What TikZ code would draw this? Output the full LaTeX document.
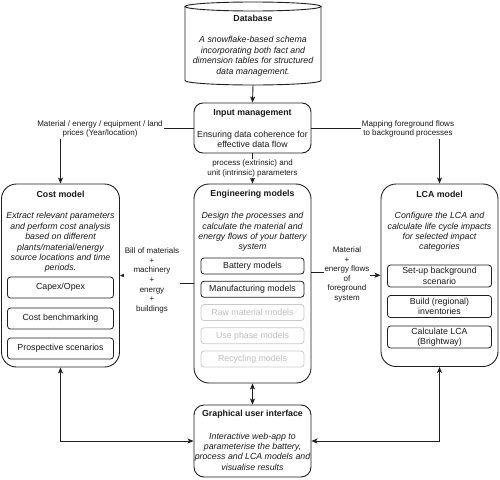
\documentclass[tikz,border=0pt]{standalone}
\usepackage{fontspec}
\setmainfont{Liberation Sans}
\usetikzlibrary{arrows.meta,calc}
\definecolor{linec}{HTML}{1F1F1F}
\definecolor{txtc}{HTML}{1A1A1A}
\definecolor{fadec}{HTML}{CACACA}
\definecolor{fadetxt}{HTML}{BEBEBE}
\begin{document}
\begin{tikzpicture}[x=1pt,y=-1pt,
  every node/.style={text=txtc},
  bigbox/.style={draw=linec, line width=0.9pt, fill=white, rounded corners=15pt, inner sep=0pt},
  midbox/.style={draw=linec, line width=0.9pt, fill=white, rounded corners=9pt, inner sep=0pt},
  subbox/.style={draw=linec, line width=0.8pt, fill=white, rounded corners=3pt, inner sep=0pt, align=center, font=\fontsize{8.8}{10.4}\selectfont},
  fadebox/.style={subbox, draw=fadec, text=fadetxt},
  ttl/.style={font=\bfseries\fontsize{8.8}{10.4}\selectfont, inner sep=0pt},
  body/.style={font=\itshape\fontsize{8.8}{10.4}\selectfont, align=center, inner sep=0pt},
  elabel/.style={fill=white, font=\fontsize{8}{9.6}\selectfont, align=center, inner sep=1pt},
  arr/.style={draw=linec, line width=0.9pt, -{Stealth[length=6pt,width=5pt,inset=1.5pt]}},
  dblarr/.style={draw=linec, line width=0.9pt, {Stealth[length=6pt,width=5pt,inset=1.5pt]}-{Stealth[length=6pt,width=5pt,inset=1.5pt]}}
]
\useasboundingbox (0,0) rectangle (500,479);
\fill[white] (0,0) rectangle (500,479);

% Database cylinder
\fill[white] (185,6.5) -- (185,80.5) .. controls (185,82.99) and (215.44,85) .. (253,85) .. controls (290.56,85) and (321,82.99) .. (321,80.5) -- (321,6.5) -- cycle;
\draw[draw=linec, line width=0.9pt] (185,6.5) -- (185,80.5) .. controls (185,82.99) and (215.44,85) .. (253,85) .. controls (290.56,85) and (321,82.99) .. (321,80.5) -- (321,6.5);
\draw[draw=linec, line width=0.9pt, fill=white] (253,6.5) ellipse [x radius=68pt, y radius=4.5pt];
\node[minimum width=136pt, minimum height=83pt, inner sep=0pt] (db) at (253,43.5) {};
\node[ttl] (dbt) at ($(db.north)+(0,17)$) {Database};
\node[body] (dbb) at ($(db.north)+(0,54.5)$) {A snowflake-based schema\\incorporating both fact and\\dimension tables for structured\\data management.};

% Main boxes
\node[midbox, minimum width=117pt, minimum height=50pt] (input) at (252.5,128) {};
\node[ttl] at ($(input.north)+(0,11)$) {Input management};
\node[body, font=\fontsize{8.8}{10.4}\selectfont] at ($(input.north)+(0,37)$) {Ensuring data coherence for\\effective data flow};

\node[bigbox, minimum width=118pt, minimum height=183pt] (cost) at (60.5,275.5) {};
\node[ttl] at ($(cost.north)+(0,11)$) {Cost model};
\node[body] at ($(cost.north)+(0,59)$) {Extract relevant parameters\\and perform cost analysis\\based on different\\plants/material/energy\\source locations and time\\periods.};
\node[subbox, minimum width=106pt, minimum height=21pt] (capex) at (60.5,287.5) {Capex/Opex};
\node[subbox, minimum width=106pt, minimum height=21pt] (bench) at (60.5,318.5) {Cost benchmarking};
\node[subbox, minimum width=106pt, minimum height=21pt] (prosp) at (60.5,348.5) {Prospective scenarios};

\node[bigbox, minimum width=117pt, minimum height=199pt] (eng) at (252.5,283.5) {};
\node[ttl] at ($(eng.north)+(0,10.5)$) {Engineering models};
\node[body] at ($(eng.north)+(0,48.5)$) {Design the processes and\\calculate the material and\\energy flows of your battery\\system};
\node[subbox, minimum width=103pt, minimum height=16pt] (batt) at (252.5,266) {Battery models};
\node[subbox, minimum width=103pt, minimum height=16pt] (manu) at (252.5,289.25) {Manufacturing models};
\node[fadebox, minimum width=103pt, minimum height=16pt] (raw) at (252.5,312.5) {Raw material models};
\node[fadebox, minimum width=103pt, minimum height=16pt] (use) at (252.5,335.75) {Use phase models};
\node[fadebox, minimum width=103pt, minimum height=16pt] (recy) at (252.5,359) {Recycling models};

\node[bigbox, minimum width=117pt, minimum height=182.5pt] (lca) at (439.5,275.25) {};
\node[ttl] at ($(lca.north)+(0,11)$) {LCA model};
\node[body] at ($(lca.north)+(0,48.5)$) {Configure the LCA and\\calculate life cycle impacts\\for selected impact\\categories};
\node[subbox, minimum width=104pt, minimum height=22pt] (setup) at (439.5,276) {Set-up background\\scenario};
\node[subbox, minimum width=104pt, minimum height=22pt] (build) at (439.5,306.5) {Build (regional)\\inventories};
\node[subbox, minimum width=104pt, minimum height=22pt] (calc) at (439.5,337) {Calculate LCA\\(Brightway)};

\node[midbox, rounded corners=10pt, minimum width=117pt, minimum height=72pt] (gui) at (252.5,441) {};
\node[ttl] at ($(gui.north)+(0,10)$) {Graphical user interface};
\node[body] at ($(gui.north)+(0,47)$) {Interactive web-app to\\parameterise the battery,\\process and LCA models and\\visualise results};

% Connectors
\coordinate (bomc) at (152,280.5);
\coordinate (mfc) at (347,274.5);
\draw[arr] (db.south) -- (input.north);
\draw[arr] (input.west) -| (cost.north);
\draw[arr] (input.east) -| (lca.north);
\draw[arr] (input.south) -- (eng.north);
\draw[arr] (eng.west) -| (bomc) |- (cost.east);
\draw[arr] ($(eng.east)+(0,-11.5)$) -| (mfc) |- (lca.west);
\draw[dblarr] (eng.south) -- (gui.north);
\draw[dblarr] (gui.west) -| (cost.south);
\draw[dblarr] (gui.east) -| (lca.south);

% Connector labels
\node[elabel] (lprice) at (100,129) {Material / energy / equipment / land\\prices (Year/location)};
\node[elabel] (lmap) at (408,129) {Mapping foreground flows\\to background processes};
\node[elabel] (lparam) at (252.5,168.5) {process (extrinsic) and\\unit (intrinsic) parameters};
\node[elabel] (lbom) at (bomc) {Bill of materials\\+\\machinery\\+\\energy\\+\\buildings};
\node[elabel] (lflow) at (mfc) {Material\\+\\energy flows\\of\\foreground\\system};
\end{tikzpicture}
\end{document}
